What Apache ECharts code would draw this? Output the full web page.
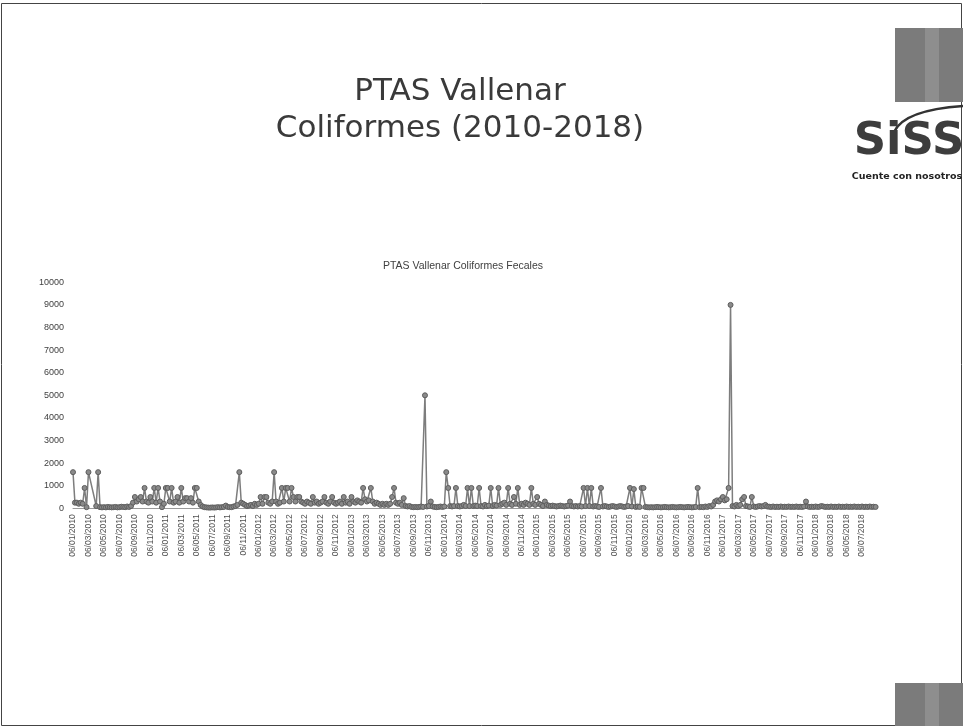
<!DOCTYPE html>
<html>
<head>
<meta charset="utf-8">
<script src="https://cdn.jsdelivr.net/npm/echarts@6/dist/echarts.min.js"></script>
<style>
html,body{margin:0;padding:0;background:#fff;}
#chart{width:963px;height:726px;}
</style>
</head>
<body>
<div id="chart"></div>
<script>
// Tick labels shown on the x axis (every second month)
const tickLabels = [
  '06/01/2010','06/03/2010','06/05/2010','06/07/2010','06/09/2010','06/11/2010',
  '06/01/2011','06/03/2011','06/05/2011','06/07/2011','06/09/2011','06/11/2011',
  '06/01/2012','06/03/2012','06/05/2012','06/07/2012','06/09/2012','06/11/2012',
  '06/01/2013','06/03/2013','06/05/2013','06/07/2013','06/09/2013','06/11/2013',
  '06/01/2014','06/03/2014','06/05/2014','06/07/2014','06/09/2014','06/11/2014',
  '06/01/2015','06/03/2015','06/05/2015','06/07/2015','06/09/2015','06/11/2015',
  '06/01/2016','06/03/2016','06/05/2016','06/07/2016','06/09/2016','06/11/2016',
  '06/01/2017','06/03/2017','06/05/2017','06/07/2017','06/09/2017','06/11/2017',
  '06/01/2018','06/03/2018','06/05/2018','06/07/2018'
];

// Sampling days within each month (weekly samples)
const sampleDays = ['06', '13', '21', '28'];
const startYear = 2010;

// Coliformes fecales values (NMP/100 ml), one per weekly sample
// (null = no sample that week; the line is drawn across it)
const coliformes = [
  1600, 250, 250, 200, 250, 200, 900, 50, 1600, null, null, null, 100, 1600, 50, 40, 50, 40, 60, 50,
  40, 50, 60, 40, 50, 70, 60, 50, 80, 60, 100, 250, 500, 300, 400, 500, 300, 900, 300, 250,
  500, 300, 900, 250, 900, 300, 50, 200, 900, 900, 300, 900, 250, 300, 500, 250, 900, 300, 450, 450,
  300, 450, 250, 900, 900, 300, 150, 80, 50, 40, 30, 30, 40, 30, 40, 50, 40, 50, 60, 120,
  60, 50, 50, 80, 100, 150, 1600, 250, 200, 150, 100, 120, 150, 100, 200, 150, 200, 500, 200, 500,
  500, 250, 200, 300, 1600, 300, 200, 250, 900, 300, 900, 900, 300, 900, 500, 300, 500, 500, 300, 250,
  200, 300, 250, 200, 500, 250, 300, 200, 250, 300, 500, 250, 200, 300, 500, 250, 200, 250, 300, 200,
  500, 250, 300, 200, 500, 300, 250, 350, 300, 250, 900, 400, 300, 350, 900, 300, 200, 250, 200, 150,
  200, 150, 200, 150, 200, 500, 900, 250, 200, 250, 150, 450, 100, 80, 100, 60, 50, 60, 50, 60,
  80, 60, 5000, 80, 100, 300, 80, 60, 50, 60, 80, 60, 80, 1600, 900, 100, 80, 100, 900, 100,
  80, 100, 150, 100, 900, 100, 900, 100, 120, 100, 900, 100, 80, 150, 100, 120, 900, 100, 150, 120,
  900, 150, 200, 250, 150, 900, 200, 150, 500, 200, 900, 150, 200, 150, 250, 200, 150, 900, 200, 150,
  500, 200, 150, 100, 300, 150, 120, 100, 120, 100, 80, 100, 120, 100, 80, 100, 120, 300, 100, 80,
  100, 80, 100, 80, 900, 100, 900, 100, 900, 80, 100, 80, 60, 900, 80, 100, 80, 60, 80, 100,
  80, 60, 80, 100, 80, 60, 80, 100, 900, 80, 850, 60, 80, 60, 900, 900, 60, 50, 40, 50,
  40, 50, 60, 50, 40, 50, 60, 50, 40, 50, 60, 50, 40, 50, 60, 50, 40, 50, 60, 50,
  40, 50, 60, 900, 50, 60, 50, 80, 60, 100, 80, 150, 300, 350, 300, 400, 500, 350, 400, 900,
  9000, 100, 80, 150, 100, 150, 400, 500, 100, 80, 60, 500, 80, 60, 80, 100, 80, 100, 150, 80,
  70, 60, 80, 60, 70, 60, 80, 60, 70, 60, 80, 60, 70, 60, 80, 60, 70, 60, 80, 300,
  80, 60, 70, 60, 80, 60, 70, 100, 80, 60, 70, 60, 80, 60, 70, 60, 80, 60, 70, 60,
  80, 60, 70, 60, 80, 60, 70, 60, 80, 60, 70, 60, 80, 60, 70, 60
];

// y-axis range
const yMin = 0, yMax = 10000, yStep = 1000;

const categories = [];
for (let y = startYear; categories.length < coliformes.length; y++) {
  for (let m = 1; m <= 12 && categories.length < coliformes.length; m++) {
    const mm = (m < 10 ? '0' : '') + m;
    for (const d of sampleDays) {
      if (categories.length < coliformes.length) categories.push(d + '/' + mm + '/' + y);
    }
  }
}

const chart = echarts.init(document.getElementById('chart'), null, {renderer: 'canvas'});
chart.setOption({
  backgroundColor: '#ffffff',
  animation: false,
  title: [
    {
      text: 'PTAS Vallenar\nColiformes (2010-2018)',
      left: 455, top: 68, textAlign: 'center',
      textStyle: {fontFamily: 'DejaVu Sans', fontSize: 31, fontWeight: 'normal', color: '#3a3a3a', lineHeight: 37}
    },
    {
      text: 'PTAS Vallenar Coliformes Fecales',
      left: 458, top: 256, textAlign: 'center',
      textStyle: {fontFamily: 'Liberation Sans', fontSize: 10.5, fontWeight: 'normal', color: '#404040'}
    }
  ],
  grid: {left: 73, top: 282.3, width: 802.6, height: 226, containLabel: false},
  xAxis: {
    type: 'category',
    data: categories,
    boundaryGap: false,
    axisLine: {show: true, lineStyle: {color: '#9a9a9a', width: 1}},
    axisTick: {show: false},
    axisLabel: {
      rotate: 90,
      interval: (i, v) => tickLabels.includes(v),
      fontFamily: 'Liberation Sans', fontSize: 8.5, color: '#505050', margin: 6
    },
    splitLine: {show: false}
  },
  yAxis: {
    type: 'value',
    min: yMin, max: yMax, interval: yStep,
    axisLine: {show: false},
    axisTick: {show: false},
    splitLine: {show: false},
    axisLabel: {fontFamily: 'Liberation Sans', fontSize: 9, color: '#404040', margin: 9, formatter: v => String(v)}
  },
  series: [{
    type: 'line',
    data: coliformes,
    connectNulls: true,
    symbol: 'circle',
    symbolSize: 5,
    showAllSymbol: true,
    lineStyle: {color: '#7d7d7d', width: 1.5},
    itemStyle: {color: '#8a8a8a', borderColor: '#5e5e5e', borderWidth: 1}
  }],
  graphic: [
    {type: 'rect', shape: {x: 1.5, y: 3.5, width: 960, height: 722}, style: {fill: 'none', stroke: '#444', lineWidth: 1}, silent: true},
    {type: 'rect', shape: {x: 895, y: 28, width: 68, height: 74}, style: {fill: '#7b7b7b'}, silent: true},
    {type: 'rect', shape: {x: 925, y: 28, width: 14, height: 74}, style: {fill: '#8e8e8e'}, silent: true},
    {type: 'rect', shape: {x: 895, y: 683, width: 68, height: 43}, style: {fill: '#7b7b7b'}, silent: true},
    {type: 'rect', shape: {x: 925, y: 683, width: 14, height: 43}, style: {fill: '#8e8e8e'}, silent: true},
    {type: 'bezierCurve', shape: {x1: 894, y1: 132, cpx1: 904, cpy1: 110, x2: 963, y2: 106}, style: {stroke: '#333', lineWidth: 2.5, fill: 'none'}, silent: true},
    {type: 'text', x: 909, y: 142, style: {text: 'SiSS', fontFamily: 'DejaVu Sans', fontWeight: 'bold', fontSize: 45, fill: '#3d3d3d', align: 'center', verticalAlign: 'middle'}, silent: true},
    {type: 'text', x: 907, y: 177, style: {text: 'Cuente con nosotros', fontFamily: 'DejaVu Sans', fontWeight: 'bold', fontSize: 9.5, fill: '#222', align: 'center', verticalAlign: 'middle'}, silent: true}
  ]
});
</script>
</body>
</html>
